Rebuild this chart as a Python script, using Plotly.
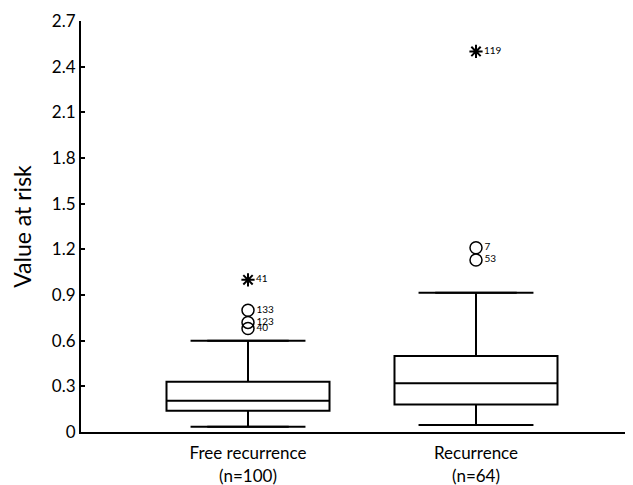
import plotly.graph_objects as go

categories = ["Free recurrence<br>(n=100)", "Recurrence<br>(n=64)"]
positions = [0, 1]
q1 = [0.14, 0.18]
median = [0.205, 0.32]
q3 = [0.33, 0.50]
lower_whisker = [0.035, 0.046]
upper_whisker = [0.60, 0.915]

mild_group = [0, 0, 0, 1, 1]
mild_value = [0.80, 0.72, 0.68, 1.21, 1.13]
mild_label = ["133", "123", "40", "7", "53"]

extreme_group = [0, 1]
extreme_value = [1.0, 2.5]
extreme_label = ["41", "119"]

y_ticks = [0, 0.3, 0.6, 0.9, 1.2, 1.5, 1.8, 2.1, 2.4, 2.7]
y_ticktext = ["0", "0.3", "0.6", "0.9", "1.2", "1.5", "1.8", "2.1", "2.4", "2.7"]

FONT = "Lato, Carlito, Calibri, sans-serif"
box_width = 0.715
cap_half = 0.252

fig = go.Figure()
fig.add_trace(go.Box(
    x=positions, q1=q1, median=median, q3=q3,
    lowerfence=lower_whisker, upperfence=upper_whisker,
    width=box_width, fillcolor="white",
    line=dict(color="black", width=2),
    boxpoints=False, showlegend=False, hoverinfo="skip",
))

# whisker caps
for p, lo, hi in zip(positions, lower_whisker, upper_whisker):
    for v in (lo, hi):
        fig.add_trace(go.Scatter(
            x=[p - cap_half, p + cap_half], y=[v, v], mode="lines",
            line=dict(color="black", width=2), showlegend=False, hoverinfo="skip",
        ))

fig.add_trace(go.Scatter(
    x=[positions[g] for g in mild_group], y=mild_value, mode="markers+text",
    marker=dict(symbol="circle-open", size=12, color="black", line=dict(width=1.5)),
    text=mild_label, textposition="middle right",
    textfont=dict(size=10, color="black", family=FONT),
    showlegend=False, hoverinfo="skip",
))
fig.add_trace(go.Scatter(
    x=[positions[g] for g in extreme_group], y=extreme_value, mode="markers+text",
    marker=dict(symbol="asterisk-open", size=11, color="black", line=dict(width=2, color="black")),
    text=extreme_label, textposition="middle right",
    textfont=dict(size=10, color="black", family=FONT),
    showlegend=False, hoverinfo="skip",
))

fig.update_layout(
    width=625, height=477,
    margin=dict(l=73, r=5, t=13, b=53),
    plot_bgcolor="white", paper_bgcolor="white",
    font=dict(family=FONT, color="black", size=17),
    xaxis=dict(
        range=[-0.7325, 1.6667], tickvals=positions, ticktext=categories,
        showline=True, linecolor="black", linewidth=2, ticks="",
        ticklabelstandoff=5, automargin=False,
        showgrid=False, zeroline=False, tickfont=dict(size=17, family=FONT),
    ),
    yaxis=dict(
        range=[0, 2.7], tickvals=y_ticks, ticktext=y_ticktext,
        showline=True, linecolor="black", linewidth=2, automargin=False,
        ticks="inside", ticklen=4, tickwidth=1.5, tickcolor="black",
        showgrid=False, zeroline=False, tickfont=dict(size=17, family=FONT),
        title=dict(text="Value at risk", font=dict(size=23, family=FONT), standoff=15),
    ),
)

fig.write_html("out.html")
